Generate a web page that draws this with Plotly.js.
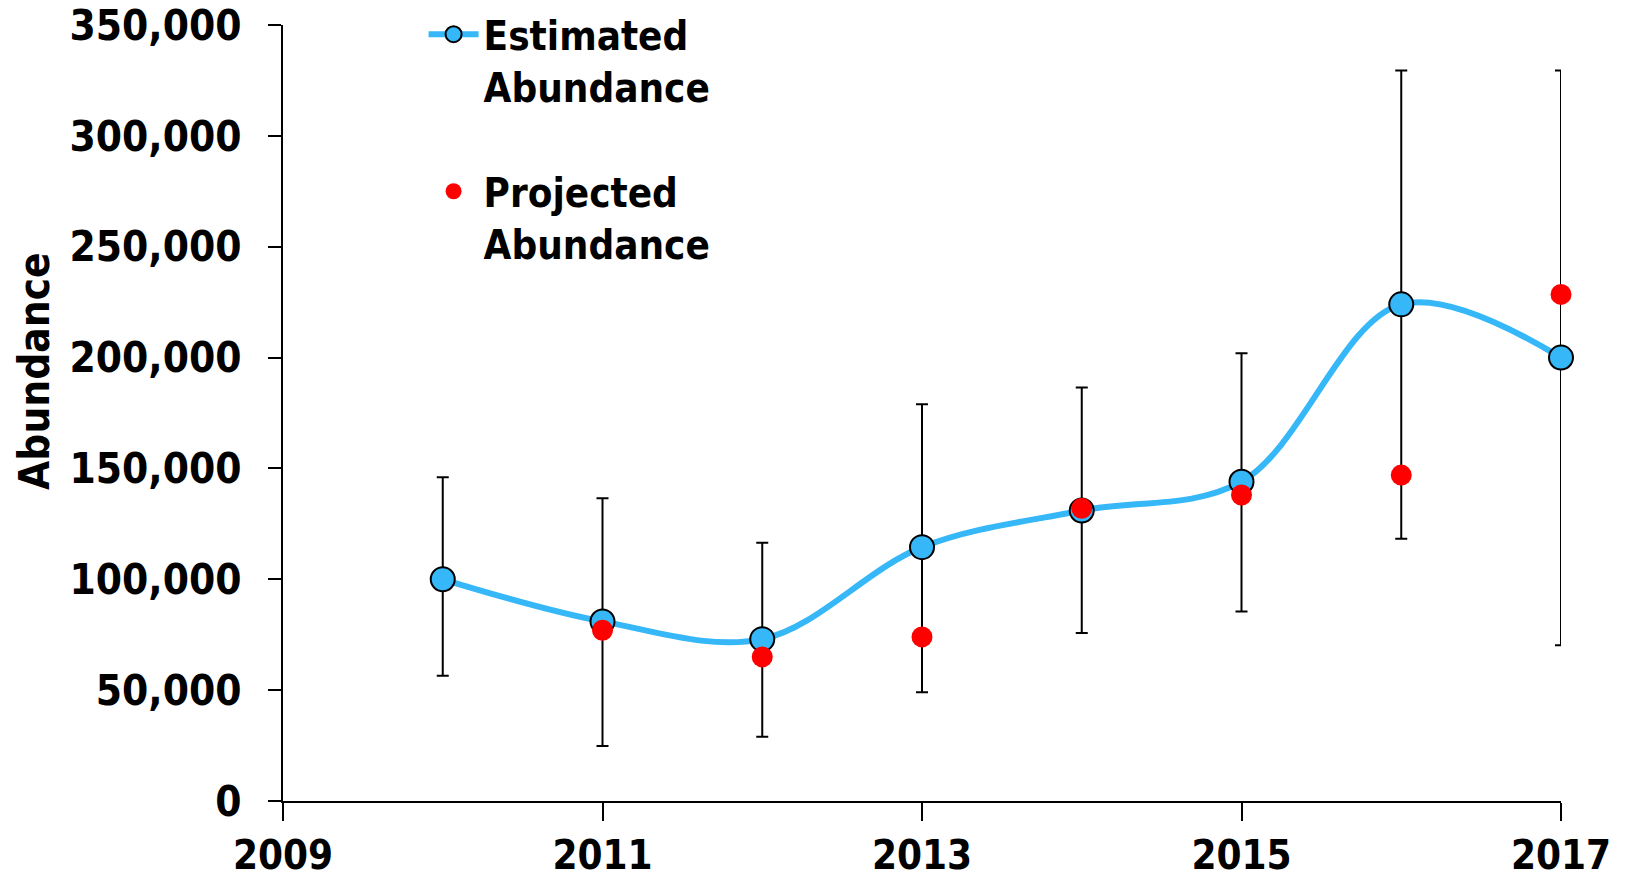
<!DOCTYPE html>
<html>
<head>
<meta charset="utf-8">
<script src="https://cdn.plot.ly/plotly-3.0.1.min.js"></script>
<style>
  html, body { margin: 0; padding: 0; background: #fff; }
  #chart { width: 1626px; height: 876px; }
</style>
</head>
<body>
<div id="chart"></div>
<script>
const years = [2010, 2011, 2012, 2013, 2014, 2015, 2016, 2017];
const estimated = [100000, 81000, 73000, 114500, 131000, 144000, 224000, 200000];
const ciUpper = [146000, 136500, 116500, 179000, 186500, 202000, 329500, 329500];
const ciLower = [56500, 24800, 29000, 49000, 75800, 85500, 118300, 70200];
const projectedYears = [2011, 2012, 2013, 2014, 2015, 2016, 2017];
const projected = [77000, 65000, 74000, 132000, 138000, 147000, 228500];
const xTicks = [2009, 2011, 2013, 2015, 2017];
const yTicks = [0, 50000, 100000, 150000, 200000, 250000, 300000, 350000];

const FONT = 'DejaVu Sans Condensed, DejaVu Sans, sans-serif';
const BLUE = '#36B7F8';

const errPlus = ciUpper.map((u, i) => u - estimated[i]);
const errMinus = ciLower.map((l, i) => estimated[i] - l);

const traces = [
  {
    x: years, y: estimated, type: 'scatter', mode: 'markers',
    marker: { size: 20, opacity: 0 }, cliponaxis: false,
    showlegend: false, hoverinfo: 'skip',
    error_y: { type: 'data', array: errPlus, arrayminus: errMinus, visible: true,
               color: '#000', thickness: 2, width: 6 }
  },
  {
    x: years, y: estimated, type: 'scatter', mode: 'lines+markers',
    name: 'Estimated<br>Abundance', legendgroup: 'a', cliponaxis: false,
    line: { shape: 'spline', smoothing: 1, color: BLUE, width: 6 },
    marker: { size: 24, color: BLUE, line: { color: '#000', width: 2 } }
  },
  {
    x: projectedYears, y: projected, type: 'scatter', mode: 'markers',
    name: 'Projected<br>Abundance', legendgroup: 'b', cliponaxis: false,
    marker: { size: 21, color: '#FF0000' }
  }
];

const layout = {
  width: 1626, height: 876,
  margin: { l: 283, r: 65, t: 25, b: 75, autoexpand: false },
  paper_bgcolor: '#fff', plot_bgcolor: '#fff',
  font: { family: FONT, size: 42, color: '#000', weight: 'bold' },
  showlegend: true,
  legend: {
    x: 0.110, y: 1.03, xanchor: 'left', yanchor: 'top',
    valign: 'top', tracegroupgap: 50, itemwidth: 50, bgcolor: 'rgba(0,0,0,0)',
    font: { family: FONT, size: 40, color: '#000', weight: 'bold' }
  },
  xaxis: {
    range: [2009, 2017], tickvals: xTicks, ticktext: xTicks.map(String),
    showline: true, linecolor: '#000', linewidth: 2,
    ticks: 'outside', ticklen: 18, tickwidth: 2, tickcolor: '#000',
    showgrid: false, zeroline: false, ticklabelstandoff: 0,
    tickfont: { family: FONT, size: 40, color: '#000', weight: 'bold' }
  },
  yaxis: {
    range: [0, 350000], tickvals: yTicks, tickformat: ',.0f',
    showline: true, linecolor: '#000', linewidth: 2,
    ticks: 'outside', ticklen: 13, tickwidth: 2, tickcolor: '#000',
    showgrid: false, zeroline: false, ticklabelstandoff: 18,
    tickfont: { family: FONT, size: 42, color: '#000', weight: 'bold' }
  },
  annotations: [{
    text: 'Abundance', textangle: -90, xref: 'paper', yref: 'paper',
    x: -0.195, y: 0.554, xanchor: 'center', yanchor: 'middle', showarrow: false,
    font: { family: FONT, size: 42, color: '#000', weight: 'bold' }
  }]
};

Plotly.newPlot('chart', traces, layout, { displayModeBar: false, staticPlot: true });
</script>
</body>
</html>
